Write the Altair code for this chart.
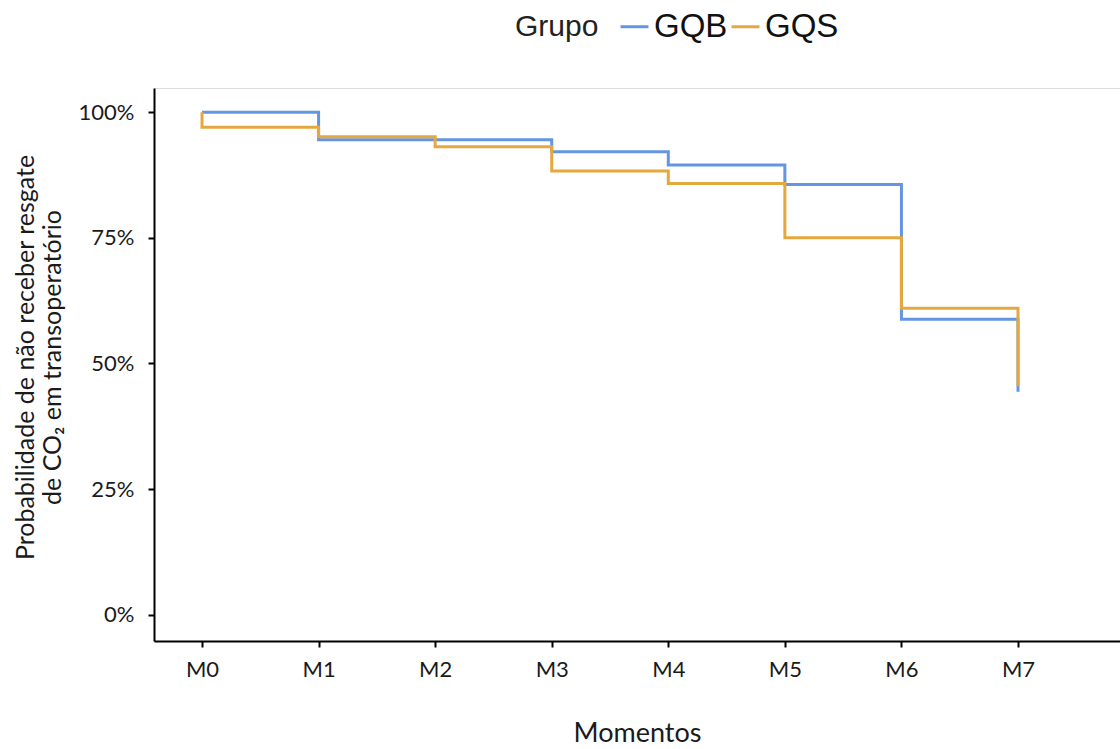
import altair as alt
import pandas as pd

moments = [0, 1, 2, 3, 4, 5, 6, 7]
moment_labels = ["M0", "M1", "M2", "M3", "M4", "M5", "M6", "M7"]
gqb = [1.00, 0.945, 0.945, 0.921, 0.895, 0.856, 0.588, 0.444]
gqs_x = [0, 0, 1, 2, 3, 4, 5, 6, 7]
gqs = [1.00, 0.970, 0.951, 0.931, 0.883, 0.858, 0.750, 0.610, 0.455]
groups = ["GQB", "GQS"]
colors = ["#6495E0", "#E5A83E"]

rows = []
for i, (m, v) in enumerate(zip(moments, gqb)):
    rows.append({"x": m, "p": v, "Grupo": "GQB", "ord": i})
for i, (m, v) in enumerate(zip(gqs_x, gqs)):
    rows.append({"x": m, "p": v, "Grupo": "GQS", "ord": i})
df = pd.DataFrame(rows)

label_expr = "['" + "','".join(moment_labels) + "'][datum.value]"

chart = alt.Chart(df).mark_line(interpolate="step-after", strokeWidth=3).encode(
    x=alt.X("x:Q",
            scale=alt.Scale(domain=[-0.412, 7.875], nice=False, zero=False),
            axis=alt.Axis(values=moments, labelExpr=label_expr, title="Momentos",
                          grid=False, domainColor="#000", domainWidth=2,
                          tickColor="#000", tickWidth=2, tickSize=6,
                          labelFont="Lato", labelFontSize=22, labelColor="#1a1a1a",
                          labelPadding=12, titleFont="Lato", titleFontSize=27,
                          titleFontWeight="normal", titleColor="#1a1a1a",
                          titlePadding=40)),
    y=alt.Y("p:Q",
            scale=alt.Scale(domain=[-0.052, 1.048], nice=False, zero=False),
            axis=alt.Axis(values=[0, 0.25, 0.5, 0.75, 1.0], format=".0%",
                          title=["Probabilidade de não receber resgate",
                                 "de CO₂ em transoperatório"],
                          grid=False, domainColor="#000", domainWidth=2,
                          tickColor="#000", tickWidth=2, tickSize=6,
                          labelFont="Lato", labelFontSize=22, labelColor="#1a1a1a",
                          labelPadding=14, titleFont="Lato", titleFontSize=25,
                          titleFontWeight="normal", titleColor="#1a1a1a",
                          titleLineHeight=27, titleAngle=270, titleBaseline="top",
                          titleAlign="center", titleX=-141, titleY=269)),
    color=alt.Color("Grupo:N",
                    scale=alt.Scale(domain=groups, range=colors),
                    legend=alt.Legend(orient="none", legendX=361, legendY=-78,
                                      direction="horizontal", titleOrient="left",
                                      title="Grupo", titleFont="Liberation Sans",
                                      titleFontSize=30, titleFontWeight="normal",
                                      titleColor="#222", titlePadding=19,
                                      labelFont="Liberation Sans", labelFontSize=33,
                                      labelColor="#111", labelOffset=3,
                                      columnPadding=-3, symbolType="stroke",
                                      symbolSize=784, symbolStrokeWidth=3)),
    order="ord:Q",
).properties(
    width=966,
    height=553,
    autosize=alt.AutoSizeParams(type="none"),
    padding={"left": 154, "top": 88, "right": 0, "bottom": 108},
).configure_view(stroke=None).configure(background="white")

chart.save("out.html", embed_options={"renderer": "svg", "actions": False})
